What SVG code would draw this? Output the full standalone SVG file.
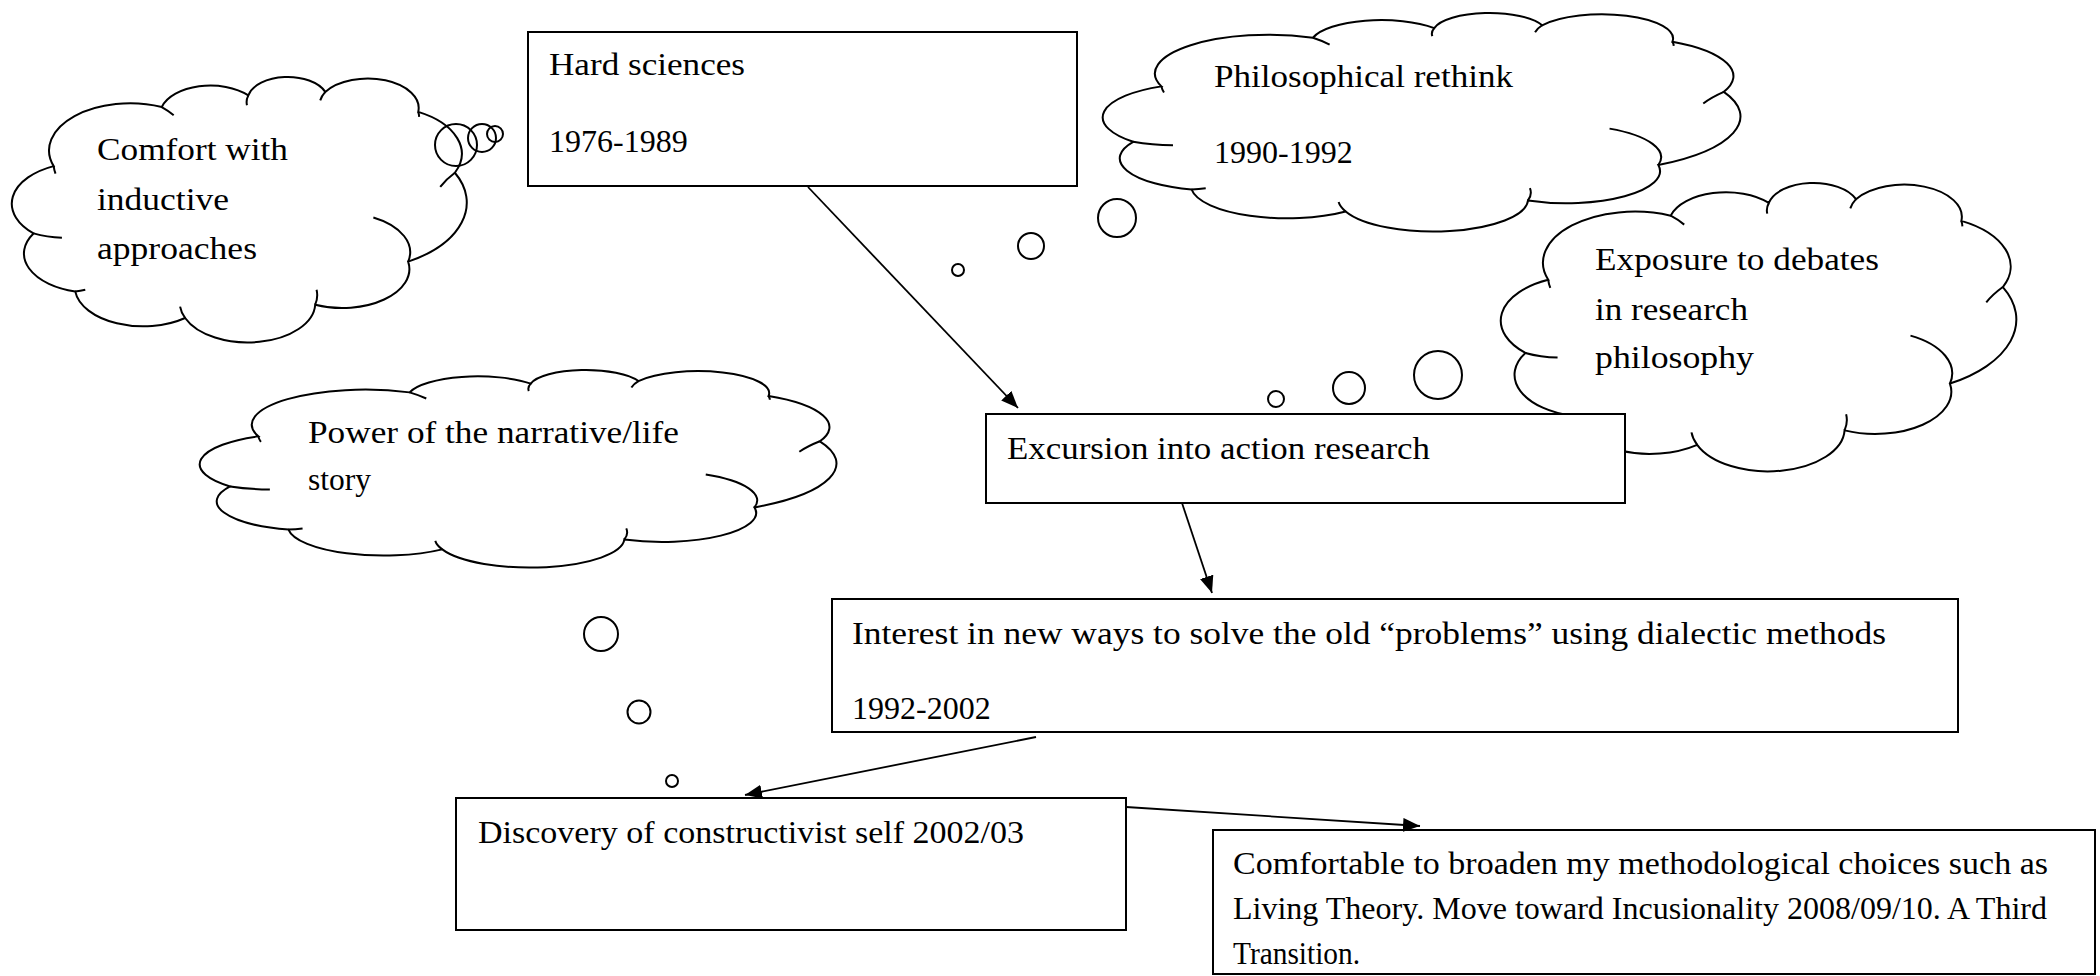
<svg xmlns="http://www.w3.org/2000/svg" width="2100" height="976" viewBox="0 0 2100 976">
<style>
.t{font-family:"Liberation Serif","Times New Roman",serif;font-size:32px;fill:#000}
.box{fill:#fff;stroke:#000;stroke-width:2}
.cl{fill:#fff;stroke:#000;stroke-width:2}
.tk{fill:none;stroke:#000;stroke-width:2}
.bub{fill:none;stroke:#000;stroke-width:2}
.con{fill:none;stroke:#000;stroke-width:1.8}
</style>
<defs>
<marker id="arr" markerWidth="17" markerHeight="14" refX="17" refY="7" orient="auto" markerUnits="userSpaceOnUse"><path d="M0,0 L17,7 L0,14 z" fill="#000"/></marker>
<g id="cloud">
<path class="cl" vector-effect="non-scaling-stroke" d="M9.1 33.5 A15.5 15.5 0 0 0 4.7 58.8 A14.67 14.67 0 0 0 13.8 80.6 A14.95 14.95 0 0 0 37.8 90.6 A14.75 14.75 0 0 0 66.2 85.6 A14.66 14.66 0 0 0 86.5 69.4 A25.6 25.6 0 0 0 96.7 36 A17.8 17.8 0 0 0 88.7 13.1 A11.1 11.1 0 0 0 68.4 5.6 A8.8 8.8 0 0 0 51.6 6.9 A11.06 11.06 0 0 0 32.7 11.3 A17.7 17.7 0 0 0 9.1 33.5 Z"/>
<path class="tk" vector-effect="non-scaling-stroke" d="M9.1 33.5 A17.7 17.7 0 0 0 9.5 36.3 M4.7 58.8 A15.5 15.5 0 0 0 10.9 60.4 M13.8 80.6 A14.67 14.67 0 0 0 16 80 M36.7 86.3 A14.75 14.75 0 0 0 37.8 90.6 M66.2 85.6 A14.75 14.75 0 0 0 66.5 80 M86.5 69.4 A14.66 14.66 0 0 0 78.9 52.8 M96.7 36 A25.6 25.6 0 0 0 93.5 41.3 M88.9 15 A11.1 11.1 0 0 0 88.7 13.1 M68.4 5.6 A11.1 11.1 0 0 0 67.3 8.8 M51.6 6.9 A8.8 8.8 0 0 0 51.3 10.6 M35.3 14.4 A17.7 17.7 0 0 0 32.7 11.3"/>
</g>
</defs>
<rect width="2100" height="976" fill="#fff"/>

<g id="cloud-comfort">
<use href="#cloud" transform="translate(12,77) scale(4.58,2.66)"/>
<text class="t" x="97" y="160" textLength="191" lengthAdjust="spacingAndGlyphs">Comfort with</text>
<text class="t" x="97" y="210" textLength="132" lengthAdjust="spacingAndGlyphs">inductive</text>
<text class="t" x="97" y="259" textLength="160" lengthAdjust="spacingAndGlyphs">approaches</text>
</g>
<g id="cloud-philosophical">
<use href="#cloud" transform="translate(1103,13) scale(6.42,2.19)"/>
<text class="t" x="1214" y="87" textLength="299" lengthAdjust="spacingAndGlyphs">Philosophical rethink</text>
<text class="t" x="1214" y="163">1990-1992</text>
</g>
<g id="cloud-exposure">
<use href="#cloud" transform="translate(1501,183) scale(5.19,2.89)"/>
<text class="t" x="1595" y="270" textLength="284" lengthAdjust="spacingAndGlyphs">Exposure to debates</text>
<text class="t" x="1595" y="320" textLength="153" lengthAdjust="spacingAndGlyphs">in research</text>
<text class="t" x="1595" y="368" textLength="159" lengthAdjust="spacingAndGlyphs">philosophy</text>
</g>
<g id="cloud-power">
<use href="#cloud" transform="translate(200,370) scale(6.41,1.98)"/>
<text class="t" x="308" y="443" textLength="371" lengthAdjust="spacingAndGlyphs">Power of the narrative/life</text>
<text class="t" x="308" y="490" textLength="63" lengthAdjust="spacingAndGlyphs">story</text>
</g>

<g id="hard-sciences">
<rect class="box" x="528" y="32" width="549" height="154"/>
<text class="t" x="549" y="75" textLength="196" lengthAdjust="spacingAndGlyphs">Hard sciences</text>
<text class="t" x="549" y="152">1976-1989</text>
</g>
<g id="excursion">
<rect class="box" x="986" y="414" width="639" height="89"/>
<text class="t" x="1007" y="459" textLength="423" lengthAdjust="spacingAndGlyphs">Excursion into action research</text>
</g>
<g id="interest">
<rect class="box" x="832" y="599" width="1126" height="133"/>
<text class="t" x="852" y="644" textLength="1034" lengthAdjust="spacingAndGlyphs">Interest in new ways to solve the old “problems” using dialectic methods</text>
<text class="t" x="852" y="719">1992-2002</text>
</g>
<g id="discovery">
<rect class="box" x="456" y="798" width="670" height="132"/>
<text class="t" x="478" y="843" textLength="546" lengthAdjust="spacingAndGlyphs">Discovery of constructivist self 2002/03</text>
</g>
<g id="comfortable">
<rect class="box" x="1213" y="830" width="882" height="144"/>
<text class="t" x="1233" y="874" textLength="815" lengthAdjust="spacingAndGlyphs">Comfortable to broaden my methodological choices such as</text>
<text class="t" x="1233" y="919" textLength="814" lengthAdjust="spacingAndGlyphs">Living Theory. Move toward Incusionality 2008/09/10. A Third</text>
<text class="t" x="1233" y="964" textLength="127" lengthAdjust="spacingAndGlyphs">Transition.</text>
</g>

<g id="thought-bubbles">
<circle class="bub" cx="456" cy="145" r="21"/>
<circle class="bub" cx="482" cy="138" r="14"/>
<circle class="bub" cx="495" cy="134" r="8"/>
<circle class="bub" cx="958" cy="270" r="6"/>
<circle class="bub" cx="1031" cy="246" r="13"/>
<circle class="bub" cx="1117" cy="218" r="19"/>
<circle class="bub" cx="1276" cy="399" r="8"/>
<circle class="bub" cx="1349" cy="388" r="16"/>
<circle class="bub" cx="1438" cy="375" r="24"/>
<circle class="bub" cx="601" cy="634" r="17"/>
<circle class="bub" cx="639" cy="712" r="11.5"/>
<circle class="bub" cx="672" cy="781" r="6"/>
</g>

<g id="connectors">
<line class="con" x1="808" y1="187" x2="1018" y2="408" marker-end="url(#arr)"/>
<line class="con" x1="1182" y1="503" x2="1212" y2="593" marker-end="url(#arr)"/>
<line class="con" x1="1036" y1="737" x2="745" y2="795" marker-end="url(#arr)"/>
<line class="con" x1="1126" y1="807" x2="1420" y2="826" marker-end="url(#arr)"/>
</g>
</svg>
